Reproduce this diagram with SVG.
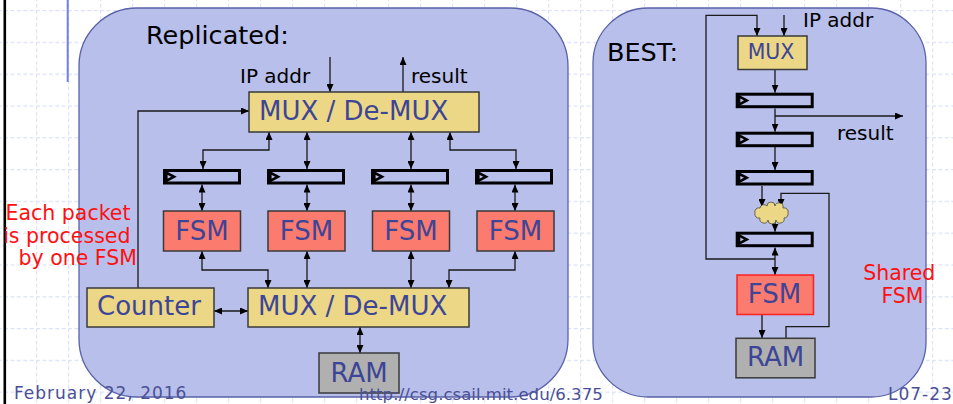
<svg xmlns="http://www.w3.org/2000/svg" width="953" height="404" viewBox="0 0 953 404">
  <style>
    .panel { fill: #b7bfea; stroke: #5a62a8; stroke-width: 1.3; }
    .yel { fill: #ebd786; stroke: #3a3a3a; stroke-width: 1.5; }
    .fsm { fill: #fb7b6f; stroke: #3a3a3a; stroke-width: 1.5; }
    .ram { fill: #b0b0b0; stroke: #3a3a3a; stroke-width: 1.5; }
    .reg { fill: none; stroke: #000; stroke-width: 3; }
    .clk { fill: none; stroke: #000; stroke-width: 2.6; stroke-linejoin: miter; }
    .lbl { font-family: "DejaVu Sans", Verdana, sans-serif; fill: #3d4597; }
    .blk { font-family: "DejaVu Sans", Verdana, sans-serif; fill: #000; }
    .red { font-family: "DejaVu Sans", Verdana, sans-serif; fill: #ff1010; font-size: 20.5px; }
    .foot { font-family: "DejaVu Sans", Verdana, sans-serif; fill: #4b5096; }
    .wire { fill: none; stroke: #1a1a1a; stroke-width: 1.3; }
    .one { marker-end: url(#ah); }
    .two { marker-start: url(#ah); marker-end: url(#ah); }
  </style>
  <defs>
    <marker id="ah" markerUnits="userSpaceOnUse" markerWidth="8" markerHeight="7" refX="8" refY="3.5" orient="auto-start-reverse">
      <path d="M0,0 L8,3.5 L0,7 z" fill="#000"/>
    </marker>
    <pattern id="grid" patternUnits="userSpaceOnUse" x="4" y="10" width="32" height="31.8">
      <path d="M0,0.5 H32" stroke="#dce2f7" stroke-width="1.3" stroke-dasharray="4 2.4"/>
      <path d="M0.5,0 V31.8" stroke="#dce2f7" stroke-width="1.3" stroke-dasharray="4 2.36"/>
    </pattern>
    <!-- register outline with its clock mark -->
    <g id="regShape">
      <rect class="reg" x="1.5" y="1.5" width="75" height="12.5"/>
      <path class="clk" d="M3.3,3.6 L11,7.75 L3.3,11.9 z"/>
    </g>
  </defs>

  <!-- page background -->
  <rect width="953" height="404" fill="#fff"/>
  <rect width="953" height="404" fill="url(#grid)"/>
  <line x1="4.8" y1="0" x2="4.8" y2="404" stroke="#000" stroke-width="2.6"/>
  <line x1="67.7" y1="0" x2="67.7" y2="82" stroke="#6f7fe6" stroke-width="2"/>

  <!-- panels -->
  <rect id="panel-replicated" class="panel" x="79" y="8" width="489" height="389" rx="58" ry="58"/>
  <rect id="panel-best" class="panel" x="593" y="8" width="333" height="389" rx="55" ry="55"/>

  <text class="blk" x="146" y="44" font-size="25.5">Replicated:</text>
  <text class="blk" x="607" y="61" font-size="25.5">BEST:</text>
  <text class="blk" x="240" y="83" font-size="20">IP addr</text>
  <text class="blk" x="411" y="83" font-size="20">result</text>
  <text class="blk" x="803" y="27" font-size="20">IP addr</text>
  <text class="blk" x="837" y="140" font-size="20">result</text>

  <text class="red" text-anchor="end">
    <tspan x="137" y="220">Each packet</tspan>
    <tspan x="137" y="242.5">is processed</tspan>
    <tspan x="137" y="265">by one FSM</tspan>
  </text>
  <text class="red" text-anchor="middle">
    <tspan x="902.5" y="279.5">Shared</tspan>
    <tspan x="902.5" y="302.5">FSM</tspan>
  </text>

  <!-- connectors -->
  <g id="connectors">
    <!-- replicated design -->
    <path class="wire one" d="M330,57 V92"/>
    <path class="wire one" d="M403,92 V57"/>
    <path class="wire one" d="M138,288 V111 H249"/>
    <path class="wire two" d="M269,132 V150 H203 V169"/>
    <path class="wire two" d="M307,132 V169"/>
    <path class="wire two" d="M411,132 V169"/>
    <path class="wire two" d="M450,132 V150 H516 V169"/>
    <path class="wire two" d="M202,184.5 V211"/>
    <path class="wire two" d="M307,184.5 V211"/>
    <path class="wire two" d="M411,184.5 V211"/>
    <path class="wire two" d="M515,184.5 V211"/>
    <path class="wire two" d="M202,251 V270 H268 V288"/>
    <path class="wire two" d="M307,251 V288"/>
    <path class="wire two" d="M411,251 V288"/>
    <path class="wire two" d="M515,251 V270 H449 V288"/>
    <path class="wire two" d="M214,311 H248"/>
    <path class="wire two" d="M360,327 V353"/>
    <!-- shared design -->
    <path class="wire one" d="M784,15 V36"/>
    <path class="wire one" d="M775,259 H706 V15.3 H757 V36"/>
    <path class="wire one" d="M775,69.5 V92.7"/>
    <path class="wire one" d="M775,108.5 V131.7"/>
    <path class="wire one" d="M775,116 H903"/>
    <path class="wire one" d="M775,147 V170"/>
    <path class="wire one" d="M762,186 V207"/>
    <path class="wire one" d="M786,338.3 V326.7 H829 V193.3 H781 V207"/>
    <path class="wire one" d="M775,220 V231.7"/>
    <path class="wire two" d="M775,247.5 V275"/>
    <path class="wire one" d="M762,314.5 V338"/>
  </g>

  <!-- replicated nodes -->
  <g id="mux-top">
    <rect class="yel" x="249" y="92" width="230" height="40"/>
    <text class="lbl" x="259" y="120" font-size="26">MUX / De-MUX</text>
  </g>
  <g id="reg-1"><use href="#regShape" x="163" y="169"/></g>
  <g id="reg-2"><use href="#regShape" x="267" y="169"/></g>
  <g id="reg-3"><use href="#regShape" x="371" y="169"/></g>
  <g id="reg-4"><use href="#regShape" x="475" y="169"/></g>
  <g id="fsm-1">
    <rect class="fsm" x="163.5" y="211" width="77" height="40"/>
    <text class="lbl" x="202" y="239.5" font-size="26" text-anchor="middle">FSM</text>
  </g>
  <g id="fsm-2">
    <rect class="fsm" x="268" y="211" width="77" height="40"/>
    <text class="lbl" x="306.5" y="239.5" font-size="26" text-anchor="middle">FSM</text>
  </g>
  <g id="fsm-3">
    <rect class="fsm" x="372.5" y="211" width="77" height="40"/>
    <text class="lbl" x="411" y="239.5" font-size="26" text-anchor="middle">FSM</text>
  </g>
  <g id="fsm-4">
    <rect class="fsm" x="477" y="211" width="77" height="40"/>
    <text class="lbl" x="515.5" y="239.5" font-size="26" text-anchor="middle">FSM</text>
  </g>
  <g id="counter">
    <rect class="yel" x="87" y="288" width="127" height="39"/>
    <text class="lbl" x="97" y="314.5" font-size="26">Counter</text>
  </g>
  <g id="mux-bottom">
    <rect class="yel" x="248" y="288" width="221" height="39"/>
    <text class="lbl" x="258" y="315" font-size="26">MUX / De-MUX</text>
  </g>
  <g id="ram-left">
    <rect class="ram" x="319" y="353" width="80" height="40"/>
    <text class="lbl" x="359" y="381.5" font-size="26" text-anchor="middle">RAM</text>
  </g>

  <!-- shared nodes -->
  <g id="mux-best">
    <rect class="yel" x="738" y="36" width="69" height="33.5"/>
    <text class="lbl" x="771" y="58.5" font-size="20.5" text-anchor="middle">MUX</text>
  </g>
  <g id="reg-b1"><use href="#regShape" x="735.7" y="92.7"/></g>
  <g id="reg-b2"><use href="#regShape" x="735.7" y="131.7"/></g>
  <g id="reg-b3"><use href="#regShape" x="735.7" y="170"/></g>
  <g id="logic-cloud">
    <path d="M755,213 a4,4 0 0 1 5,-5 a4,4 0 0 1 7,-2 a4,4 0 0 1 8,0 a4,4 0 0 1 8,2 a4,4 0 0 1 5,5 a4,4 0 0 1 -4,5 a4,4 0 0 1 -8,2 a4,4 0 0 1 -8,0 a4,4 0 0 1 -8,-2 a4,4 0 0 1 -5,-5 z" fill="#ebd786" stroke="#4a4a3a" stroke-width="0.8"/>
  </g>
  <g id="reg-b4"><use href="#regShape" x="735.7" y="231.7"/></g>
  <g id="fsm-best">
    <rect x="737" y="275" width="76.5" height="39.5" fill="#fb7b6f" stroke="#ff2020" stroke-width="1.5"/>
    <text class="lbl" x="774.5" y="302.5" font-size="26" text-anchor="middle">FSM</text>
  </g>
  <g id="ram-best">
    <rect class="ram" x="736" y="338.3" width="79" height="39.5"/>
    <text class="lbl" x="775.5" y="365.5" font-size="26" text-anchor="middle">RAM</text>
  </g>

  <!-- footer -->
  <text class="foot" x="14" y="399" font-size="17" letter-spacing="1">February 22, 2016</text>
  <text class="foot" x="359" y="400" font-size="16.6">http://csg.csail.mit.edu/6.375</text>
  <text class="foot" x="888" y="400" font-size="17" letter-spacing="1">L07-23</text>
</svg>
